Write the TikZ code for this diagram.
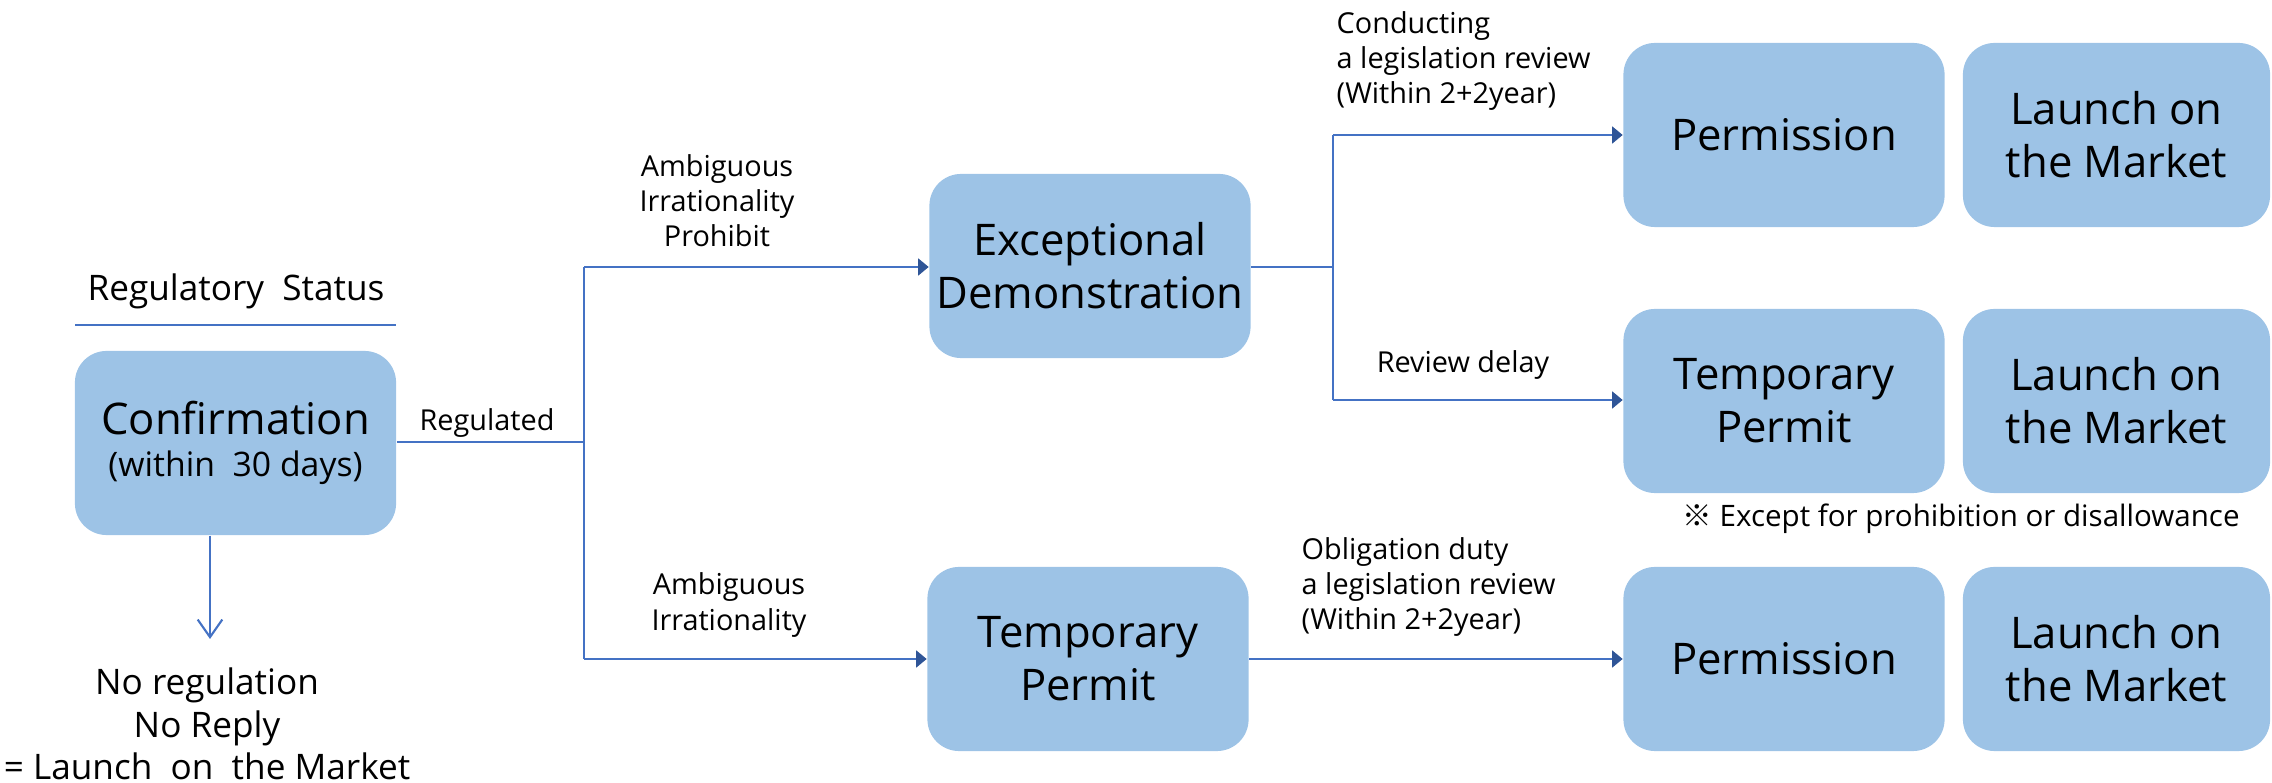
\documentclass[tikz,border=0pt]{standalone}
\usepackage{fontspec}
\setmainfont{Open Sans}
\newfontfamily\refmark{Noto Sans CJK KR}
\usetikzlibrary{arrows.meta}
\definecolor{boxblue}{RGB}{157,195,230}
\definecolor{linkblue}{RGB}{68,114,196}
\definecolor{tipblue}{RGB}{47,85,151}
\begin{document}
\begin{tikzpicture}[x=0.01cm,y=-0.01cm,
  box/.style={fill=boxblue, rounded corners=9pt, minimum width=3.21cm,
    minimum height=1.84cm, align=center, inner sep=0pt,
    font=\fontsize{12.4}{15}\selectfont},
  launchbox/.style={box, minimum width=3.07cm},
  lbl/.style={align=center, inner sep=0pt, font=\fontsize{8.2}{10}\selectfont},
  lblleft/.style={lbl, align=left},
  note/.style={align=center, inner sep=0pt, font=\fontsize{10}{12}\selectfont},
  flow/.style={draw=linkblue, line width=0.6pt},
  arr/.style={flow, -{Triangle[length=3pt,width=4.8pt,color=tipblue]}},
  openarr/.style={flow, -{Straight Barb[length=5pt,width=7pt]}}]
\useasboundingbox (0,0) rectangle (2272,783);

% left column: regulatory status check
\node[note] (status) at (236,291) {Regulatory\ \ Status};
\draw[flow] (75,325) coordinate (ruleL) -- (396,325) coordinate (ruleR);
\node[box] (conf) at (235.5,443) {Confirmation\\[-3pt]{\fontsize{9.6}{12}\selectfont (within\ \ 30\ days)}};
\coordinate (dnEnd) at (210,639);
\draw[openarr] (conf.south -| dnEnd) -- (dnEnd);
\node[note] (noreg) at (207,724) {No regulation\\No Reply\\= Launch\ \ on\ \ the Market};

% first split
\coordinate (split) at (584,442);
\coordinate (splitTop) at (584,267);
\coordinate (splitBot) at (584,659);
\draw[flow] (conf.east |- split) -- (split);
\node[lbl] (regd) at (487,423) {Regulated};
\draw[flow] (splitTop) -- (splitBot);

\node[box] (exc) at (1090,266) {Exceptional\\Demonstration};
\node[box] (tmpA) at (1088,659) {Temporary\\Permit};
\draw[arr] (splitTop) -- (exc.west |- splitTop);
\draw[arr] (splitBot) -- (tmpA.west |- splitBot);
\node[lbl] (whyA) at (717,201) {Ambiguous\\Irrationality\\Prohibit};
\node[lbl] (whyB) at (729,605) {Ambiguous\\Irrationality};

% second split after the demonstration
\coordinate (fork) at (1333,267);
\coordinate (forkTop) at (1333,135);
\coordinate (forkBot) at (1333,400);
\draw[flow] (exc.east |- fork) -- (fork);
\draw[flow] (forkTop) -- (forkBot);

\node[box] (permA) at (1784,135) {Permission};
\node[launchbox] (launchA) at (2116.5,135) {Launch on\\the Market};
\node[box] (tmpB) at (1784,401) {Temporary\\Permit};
\node[launchbox] (launchB) at (2116.5,401) {Launch on\\the Market};
\draw[arr] (forkTop) -- (permA.west |- forkTop);
\draw[arr] (forkBot) -- (tmpB.west |- forkBot);
\node[lblleft, anchor=west] (review) at (1336,61) {Conducting\\a legislation review\\(Within 2+2year)};
\node[lbl] (delay) at (1463,365) {Review delay};
\node[lbl, font=\fontsize{8.4}{10}\selectfont] (except) at (1961,519) {{\refmark ※} Except for prohibition or disallowance};

% bottom row
\node[box] (permC) at (1784,659) {Permission};
\node[launchbox] (launchC) at (2116.5,659) {Launch on\\the Market};
\draw[arr] (tmpA.east |- splitBot) -- (permC.west |- splitBot);
\node[lblleft, anchor=west] (duty) at (1301,587) {Obligation duty\\a legislation review\\(Within 2+2year)};
\end{tikzpicture}
\end{document}
